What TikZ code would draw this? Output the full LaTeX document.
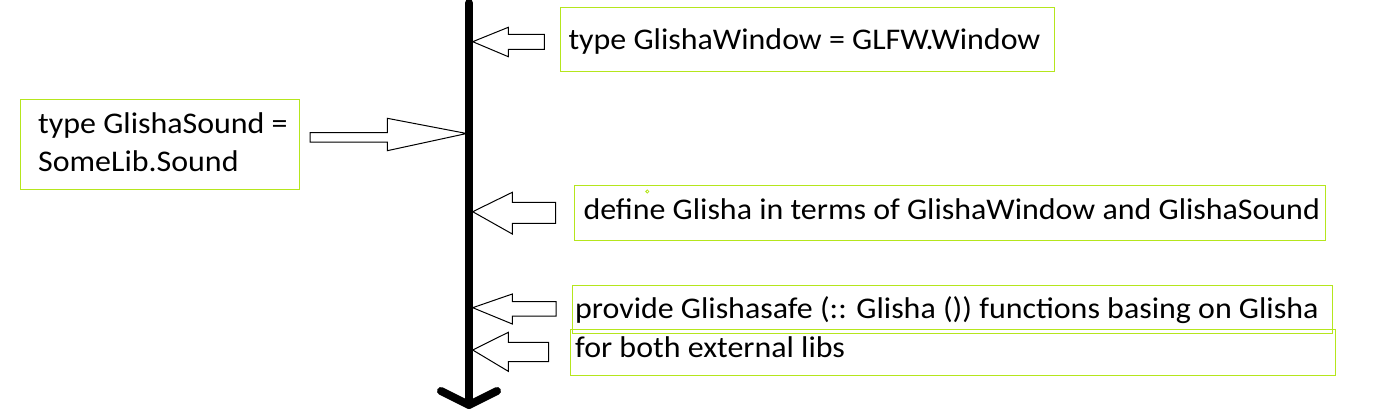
\documentclass[tikz,border=0pt]{standalone}
\usepackage{fontspec}
\setmainfont{Carlito}[FakeStretch=1.065]
\definecolor{lime}{HTML}{B5E61D}
\begin{document}
\begin{tikzpicture}[x=1pt,y=-1pt,
  box/.style={draw=lime, line width=1pt, fill=none},
  label/.style={anchor=base west, inner sep=0pt, font=\fontsize{30}{38}\selectfont},
  blockarrow/.style={draw=black, fill=white, line width=1pt, line join=miter},
  timeline/.style={line width=8pt, line cap=round, line join=round}]
\useasboundingbox (0,0) rectangle (1395,412);
% timeline
\coordinate (top) at (469,3);
\coordinate (bottom) at (469,405);
\draw[timeline] (top) -- (bottom);
\draw[timeline] (441,391) -- (bottom) -- (497,391);
% boxes
\draw[box] (560.3,7.3) rectangle (1054.3,71.7);
\draw[box] (20.7,99.3) rectangle (299,189);
\draw[box] (574.3,185) rectangle (1325.7,240.3);
\draw[box] (572.3,285) rectangle (1332.3,333.3);
\draw[box] (570.7,329.3) rectangle (1335.7,375.3);
\draw[lime, line width=0.8pt] (647.3,191.5) circle (1.6);
% texts
\node[label] (t1) at (568.3,50) {type GlishaWindow = GLFW.Window};
\node[label] (t2a) at (38,133) {type GlishaSound =};
\node[label] (t2b) at (38,171.7) {SomeLib.Sound};
\node[label] (t3) at (583.3,219.3) {define Glisha in terms of GlishaWindow and GlishaSound};
\node[label] (t4) at (575,318.3) {provide Glishasafe (:: Glisha ()) functions basing on Glisha};
\node[label] (t5) at (575,357.3) {for both external libs};
% block arrows
\draw[blockarrow] (472.7,41.7) -- (508.3,27.3) -- (508.3,34.3) -- (544.3,34.3) -- (544.3,49.3) -- (508.3,49.3) -- (508.3,56.7) -- cycle;
\draw[blockarrow] (466.7,133.5) -- (387.3,118.3) -- (387.3,132.7) -- (310,132.7) -- (310,142) -- (387.3,142) -- (387.3,150.7) -- cycle;
\draw[blockarrow] (472.7,211.7) -- (512.3,192.3) -- (512.3,202.3) -- (555.7,202.3) -- (555.7,223.3) -- (512.3,223.3) -- (512.3,234) -- cycle;
\draw[blockarrow] (472.7,307.7) -- (512.3,294) -- (512.3,301.7) -- (556,301.7) -- (556,316) -- (512.3,316) -- (512.3,324) -- cycle;
\draw[blockarrow] (472.7,350) -- (508.3,332.3) -- (508.3,342.3) -- (548.7,342.3) -- (548.7,361.7) -- (508.3,361.7) -- (508.3,371.3) -- cycle;
\end{tikzpicture}
\end{document}
